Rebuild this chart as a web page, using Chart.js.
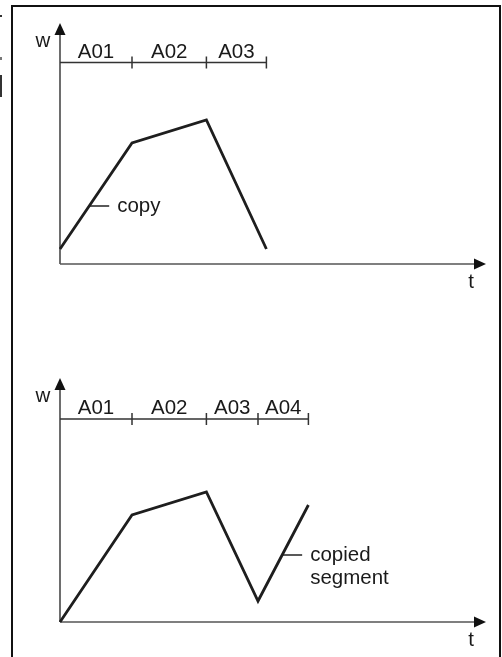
<!DOCTYPE html>
<html>
<head>
<meta charset="utf-8">
<script src="https://cdn.jsdelivr.net/npm/chart.js@4"></script>
<style>
  html, body { margin: 0; padding: 0; background: #fff; }
  body { width: 502px; height: 657px; position: relative; overflow: hidden; }
  #frame { position: absolute; left: 11px; top: 5px; width: 486px; height: 700px; border: 2px solid #111; }
  .mark { position: absolute; left: 0; width: 2px; background: #333; }
  canvas { position: absolute; left: 0; }
</style>
</head>
<body>
<div id="frame"></div>
<div class="mark" style="top:15px;height:2px"></div>
<div class="mark" style="top:57px;height:3px;background:#777"></div>
<div class="mark" style="top:75px;height:22px"></div>
<canvas id="chartTop" width="502" height="330" style="top:0"></canvas>
<canvas id="chartBottom" width="502" height="327" style="top:330px"></canvas>
<script>
// 데이터: 위 그림 (원본)
const segTop = ['A01', 'A02', 'A03'];
const tTop = [0, 3, 6.1, 8.6];          // 구간 경계 = 꺾이는 점의 t
const wTop = [1.5, 12.1, 14.4, 1.5];
const noteTop = ['copy'];
const noteTopW = 5.8;                    // 설명선이 붙는 w 높이
const noteTopSeg = 0;                    // 설명선이 붙는 선분 번호

// 데이터: 아래 그림 (복사된 구간 추가)
const segBottom = ['A01', 'A02', 'A03', 'A04'];
const tBottom = [0, 3, 6.1, 8.25, 10.35];
const wBottom = [0, 10.7, 13.0, 2.1, 11.7];
const noteBottom = ['copied', 'segment'];
const noteBottomW = 6.7;
const noteBottomSeg = 3;

const axisLabels = { x: 't', y: 'w' };
const T_MAX = 17.75;

const FONT = '20.5px "Liberation Sans", Arial, Helvetica, sans-serif';
const INK = '#1a1a1a';

// 축, 구간 막대, 설명선 그리기
const diagramPlugin = {
    id: 'diagram',
    beforeDatasetsDraw(chart, args, opts) {
        const { ctx, chartArea: a, scales: { x, y } } = chart;
        const x0 = x.getPixelForValue(0);
        const y0 = y.getPixelForValue(0);
        ctx.save();

        // 축
        ctx.strokeStyle = '#555';
        ctx.lineWidth = 1.7;
        ctx.beginPath();
        ctx.moveTo(x0, y0);
        ctx.lineTo(x0, a.top + 8);
        ctx.moveTo(x0, y0);
        ctx.lineTo(a.right - 8, y0);
        ctx.stroke();

        // 화살표
        ctx.fillStyle = '#111';
        ctx.beginPath();
        ctx.moveTo(x0, a.top);
        ctx.lineTo(x0 - 5.5, a.top + 12);
        ctx.lineTo(x0 + 5.5, a.top + 12);
        ctx.closePath();
        ctx.fill();
        ctx.beginPath();
        ctx.moveTo(a.right, y0);
        ctx.lineTo(a.right - 12, y0 - 5.5);
        ctx.lineTo(a.right - 12, y0 + 5.5);
        ctx.closePath();
        ctx.fill();

        ctx.font = FONT;
        ctx.fillStyle = INK;
        ctx.textBaseline = 'alphabetic';
        ctx.textAlign = 'center';
        ctx.fillText(axisLabels.y, x0 - 17, a.top + 24);
        ctx.fillText(axisLabels.x, a.right - 15, y0 + 24);

        // 구간 막대
        const by = y.getPixelForValue(opts.barLevel);
        const bounds = opts.bounds;
        ctx.strokeStyle = '#333';
        ctx.lineWidth = 1.5;
        ctx.beginPath();
        ctx.moveTo(x0, by);
        ctx.lineTo(x.getPixelForValue(bounds[bounds.length - 1]), by);
        for (let i = 1; i < bounds.length; i++) {
            const px = x.getPixelForValue(bounds[i]);
            ctx.moveTo(px, by - 6);
            ctx.lineTo(px, by + 6);
        }
        ctx.stroke();
        opts.segments.forEach((s, i) => {
            const cx = (x.getPixelForValue(bounds[i]) + x.getPixelForValue(bounds[i + 1])) / 2;
            ctx.fillText(s, cx, by - 5);
        });

        // 설명선: 선분 위 w 높이에서 시작
        const ts = opts.bounds, ws = opts.values, k = opts.noteSeg;
        const f = (opts.noteW - ws[k]) / (ws[k + 1] - ws[k]);
        const nt = ts[k] + f * (ts[k + 1] - ts[k]);
        const nx = x.getPixelForValue(nt);
        const ny = y.getPixelForValue(opts.noteW);
        ctx.strokeStyle = '#222';
        ctx.lineWidth = 1.5;
        ctx.beginPath();
        ctx.moveTo(nx, ny);
        ctx.lineTo(nx + 20, ny);
        ctx.stroke();
        ctx.textAlign = 'left';
        opts.note.forEach((line, i) => {
            ctx.fillText(line, nx + 28, ny + 6 + i * 23);
        });
        ctx.restore();
    }
};

function makeChart(id, ts, ws, segs, note, noteW, noteSeg, barLevel, wMax, padTop, padBottom) {
    const ctx = document.getElementById(id).getContext('2d');
    return new Chart(ctx, {
        type: 'line',
        data: {
            datasets: [{
                data: ts.map((t, i) => ({ x: t, y: ws[i] })),
                borderColor: '#1e1e1e',
                borderWidth: 2.8,
                pointRadius: 0,
                tension: 0,
                fill: false,
                clip: false,
                borderJoinStyle: 'miter'
            }]
        },
        options: {
            responsive: false,
            animation: false,
            devicePixelRatio: 1,
            layout: { padding: { left: 60, right: 16, top: padTop, bottom: padBottom } },
            scales: {
                x: { type: 'linear', min: 0, max: T_MAX, display: false },
                y: { type: 'linear', min: 0, max: wMax, display: false }
            },
            plugins: {
                legend: { display: false },
                tooltip: { enabled: false },
                diagram: {
                    bounds: ts, values: ws, segments: segs,
                    note: note, noteW: noteW, noteSeg: noteSeg,
                    barLevel: barLevel
                }
            }
        },
        plugins: [diagramPlugin]
    });
}

makeChart('chartTop', tTop, wTop, segTop, noteTop, noteTopW, noteTopSeg, 20.15, 24.1, 23, 66);
makeChart('chartBottom', tBottom, wBottom, segBottom, noteBottom, noteBottomW, noteBottomSeg, 20.3, 24.4, 48, 35);
</script>
</body>
</html>
